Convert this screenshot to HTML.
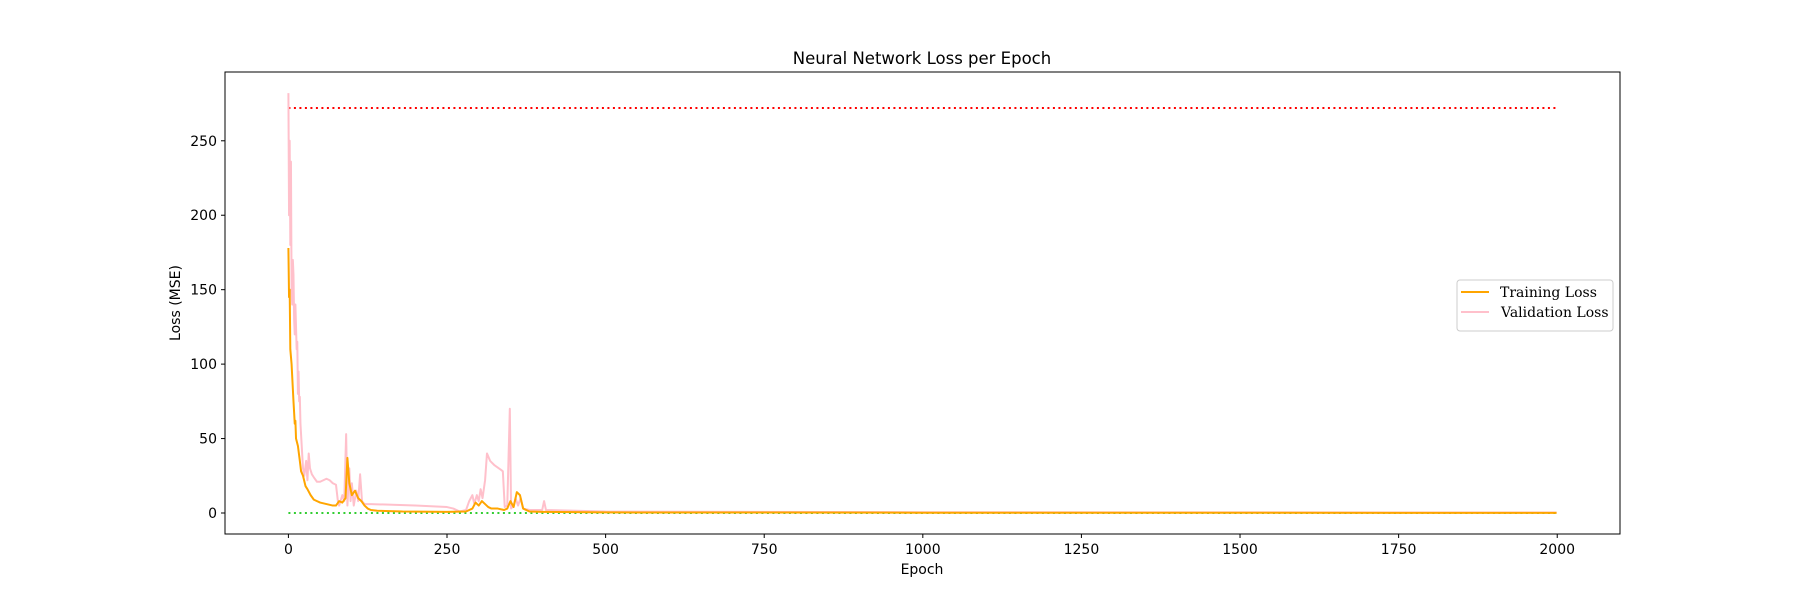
<!DOCTYPE html>
<html><head><meta charset="utf-8"><style>
html,body{margin:0;padding:0;background:#fff;}
svg{display:block;}
text{font-family:"DejaVu Sans","Liberation Sans",sans-serif;fill:#000;}
.lg{font-family:"DejaVu Serif","Liberation Serif",serif;font-size:14px;}
</style></head><body>
<svg id="chart" width="1800" height="600" viewBox="0 0 1800 600">
<text x="922" y="64" text-anchor="middle" font-size="16.5">Neural Network Loss per Epoch</text>
<g id="plot"></g>
<g id="xt"></g>
<g id="yt"></g>
<rect x="225" y="72" width="1395" height="462" fill="none" stroke="#000" stroke-width="1"/>
<text x="922" y="574" text-anchor="middle" font-size="14">Epoch</text>
<text transform="translate(180,303) rotate(-90)" text-anchor="middle" font-size="14">Loss (MSE)</text>
<g>
<rect x="1457" y="280" width="156" height="51" rx="3" fill="#fff" fill-opacity="0.8" stroke="#ccc"/>
<line x1="1461" y1="292" x2="1489" y2="292" stroke="orange" stroke-width="2"/>
<text class="lg" x="1500" y="297">Training Loss</text>
<line x1="1461" y1="312" x2="1489" y2="312" stroke="pink" stroke-width="2"/>
<text class="lg" x="1501" y="317">Validation Loss</text>
</g>
</svg>
<script>
const trainEpochs=[0,1,2,3,5,8,10,11,12,15,18,20,23,27,30,35,40,45,50,60,70,75,80,85,90,93,96,100,105,110,115,120,125,130,140,180,250,280,290,295,300,305,310,315,320,330,340,345,350,355,360,365,370,380,400,500,1000,1999];
const trainLoss=[178,145,150,110,100,75,60,62,50,45,35,28,25,18,16,12,9,8,7,6,5,5,8,7,10,37,20,12,15,10,8,5,3,2,1.5,1,0.8,1,3,7,5,8,6,4,3,3,2,3,8,4,14,12,3,1,0.8,0.4,0.2,0.1];
const valEpochs=[0,1,2,3,4,5,6,7,8,9,10,11,13,14,15,16,17,18,19,21,23,25,28,30,32,34,37,40,45,50,55,60,65,70,75,78,80,85,88,91,93,96,98,100,103,107,110,113,116,120,130,200,250,260,270,280,285,290,293,297,300,303,306,310,313,318,325,335,338,341,345,349,351,355,358,362,366,370,380,400,403,406,500,1000,1999];
const valLoss=[282,200,250,180,236,150,140,170,160,130,120,140,110,115,80,95,75,78,60,45,30,25,35,22,40,30,26,24,21,21,22,23,22,20,19,8,5,12,8,53,5,30,8,20,5,15,8,26,8,6,6,5,4,3,1,2,8,12,6,12,8,16,10,22,40,35,32,29,28,4,5,70,3,5,10,5,10,3,2,2,8,2,1,0.5,0.3];
const xTicks=[0,250,500,750,1000,1250,1500,1750,2000];
const yTicks=[0,50,100,150,200,250];
const maxLine=272, minLine=0;
const NS='http://www.w3.org/2000/svg';
const X0=225,X1=1620,Y0=534,Y1=72,xmin=-99.95,xmax=2098.95,ymin=-14.1,ymax=296.2;
function sx(v){return X0+(v-xmin)/(xmax-xmin)*(X1-X0);}
function sy(v){return Y0-(v-ymin)/(ymax-ymin)*(Y0-Y1);}
function mk(t,a,p){const e=document.createElementNS(NS,t);for(const k in a)e.setAttribute(k,a[k]);p.appendChild(e);return e;}
const plot=document.getElementById('plot'),xt=document.getElementById('xt'),yt=document.getElementById('yt');
function poly(ex,vs,col,name){const pts=ex.map((e,i)=>sx(e).toFixed(2)+','+sy(vs[i]).toFixed(2)).join(' ');
 const p=mk('polyline',{points:pts,fill:'none',stroke:col,'stroke-width':2,'stroke-linejoin':'round'},plot);
 
 }
const r=mk('line',{x1:sx(0),x2:sx(1999),y1:sy(maxLine),y2:sy(maxLine),stroke:'red','stroke-width':2,'stroke-dasharray':'2,3.5'},plot);


const g=mk('line',{x1:sx(0),x2:sx(1999),y1:sy(minLine),y2:sy(minLine),stroke:'limegreen','stroke-width':2,'stroke-dasharray':'2,3.5'},plot);


poly(valEpochs,valLoss,'pink','validation-loss-line');
poly(trainEpochs,trainLoss,'orange','training-loss-line');
xTicks.forEach(t=>{const x=sx(t);
 const l=mk('line',{x1:x,x2:x,y1:Y0,y2:Y0+4,stroke:'#000'},xt);
 
 
 const tx=mk('text',{x:x,y:Y0+20,'text-anchor':'middle','font-size':14},xt);tx.textContent=t;
 
 });
yTicks.forEach(t=>{const y=sy(t);
 const l=mk('line',{x1:X0-4,x2:X0,y1:y,y2:y,stroke:'#000'},yt);
 
 
 const tx=mk('text',{x:X0-8,y:y+5,'text-anchor':'end','font-size':14},yt);tx.textContent=t;
 
 });
</script>
</body></html>
